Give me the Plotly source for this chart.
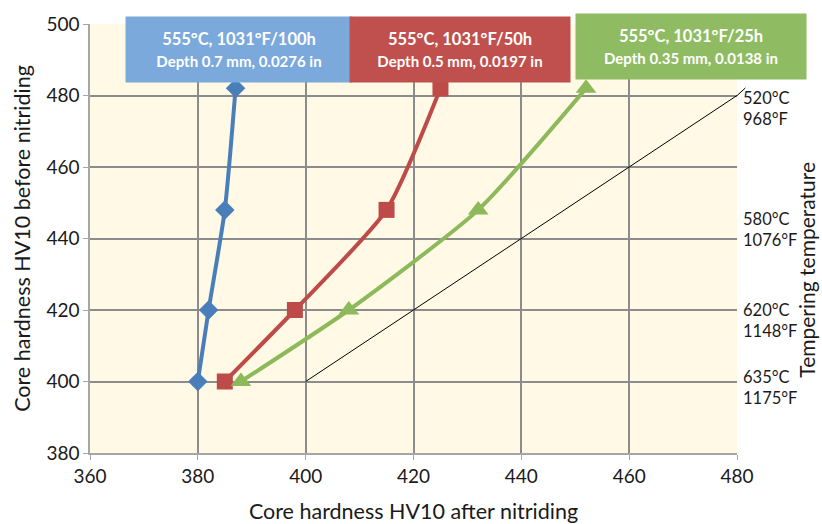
import plotly.graph_objects as go

# Core hardness HV10 after nitriding (x) vs. before nitriding (y)
hv_before = [400, 420, 448, 482]
hv_after_100h = [380, 382, 385, 387]
hv_after_50h = [385, 398, 415, 425]
hv_after_25h = [388, 408, 432, 452]

# Reference line: no change in hardness
ref_x = [400, 480]
ref_y = [400, 480]

# Tempering temperatures on the right-hand side
temper_labels = ["520°C<br>968°F", "580°C<br>1076°F", "620°C<br>1148°F", "635°C<br>1175°F"]
temper_y = [476.5, 442.5, 417.2, 398.3]

series_titles = [
    ("555°C, 1031°F/100h", "Depth 0.7 mm, 0.0276 in"),
    ("555°C, 1031°F/50h", "Depth 0.5 mm, 0.0197 in"),
    ("555°C, 1031°F/25h", "Depth 0.35 mm, 0.0138 in"),
]

x_ticks = [360, 380, 400, 420, 440, 460, 480]
y_ticks = [380, 400, 420, 440, 460, 480, 500]

BLUE = "#4A7EBB"
RED = "#BE4B48"
GREEN = "#8DB95A"
BOX_BLUE = "#7BA9DC"
BOX_RED = "#C0504D"
BOX_GREEN = "#8FBC62"
FONT = "Lato, Open Sans, sans-serif"
TEXT = "#1a1a1a"

fig = go.Figure()

fig.add_trace(go.Scatter(
    x=ref_x, y=ref_y, mode="lines",
    line=dict(color="black", width=1), hoverinfo="skip", showlegend=False,
))

fig.add_trace(go.Scatter(
    x=hv_after_100h, y=hv_before, mode="lines+markers",
    line=dict(color=BLUE, width=4, shape="spline", smoothing=0.6),
    marker=dict(symbol="diamond", size=15, color=BLUE),
    showlegend=False, cliponaxis=False,
))
fig.add_trace(go.Scatter(
    x=hv_after_50h, y=hv_before, mode="lines+markers",
    line=dict(color=RED, width=4, shape="spline", smoothing=0.6),
    marker=dict(symbol="square", size=16, color=RED),
    showlegend=False, cliponaxis=False,
))
fig.add_trace(go.Scatter(
    x=hv_after_25h, y=hv_before, mode="lines+markers",
    line=dict(color=GREEN, width=4, shape="spline", smoothing=0.6),
    marker=dict(symbol="triangle-up", size=18, color=GREEN),
    showlegend=False, cliponaxis=False,
))

# Series caption boxes above the curves
box_x = [387.6, 428.7, 471.5]
box_y = [492.9, 492.9, 493.6]
box_w = [226, 220, 230]
box_colors = [BOX_BLUE, BOX_RED, BOX_GREEN]
for (t1, t2), bx, by, bw, bc in zip(series_titles, box_x, box_y, box_w, box_colors):
    fig.add_annotation(
        x=bx, y=by, xref="x", yref="y", showarrow=False,
        text=f"<b>{t1}<br><span style='font-size:15px'>{t2}</span></b>",
        font=dict(family=FONT, size=16.5, color="white"),
        bgcolor=bc, width=bw, height=65, borderpad=0, align="center",
        xanchor="center", yanchor="middle",
    )

# Tempering temperature labels
for lab, ty in zip(temper_labels, temper_y):
    fig.add_annotation(
        x=1.006, y=ty, xref="paper", yref="y", showarrow=False,
        text=lab, font=dict(family=FONT, size=16.5, color=TEXT),
        xanchor="left", yanchor="middle", align="left",
    )

# Short leader from the reference line to the 520°C label
fig.add_shape(type="line", xref="paper", yref="paper",
              x0=1.0, y0=0.833, x1=1.013, y1=0.851,
              line=dict(color="black", width=1))

fig.add_annotation(
    x=1.108, y=0.427, xref="paper", yref="paper", showarrow=False,
    text="Tempering temperature", textangle=-90,
    font=dict(family=FONT, size=21, color=TEXT),
    xanchor="center", yanchor="middle",
)

fig.update_xaxes(
    range=[360, 480], tickvals=x_ticks, showgrid=True, gridcolor="#8C8C8C", gridwidth=2,
    showline=True, linecolor="#A6A6A6", linewidth=1.5, ticks="outside", ticklen=5,
    tickcolor="#A6A6A6", zeroline=False, automargin=False,
    tickfont=dict(family=FONT, size=19, color=TEXT),
    title=dict(text="Core hardness HV10 after nitriding", standoff=22,
               font=dict(family=FONT, size=21.5, color=TEXT)),
)
fig.update_yaxes(
    range=[380, 500], tickvals=y_ticks, showgrid=True, gridcolor="#8C8C8C", gridwidth=2,
    showline=True, linecolor="#A6A6A6", linewidth=1.5, ticks="outside", ticklen=5,
    tickcolor="#A6A6A6", zeroline=False, automargin=False,
    tickfont=dict(family=FONT, size=19, color=TEXT),
    title=dict(text="Core hardness HV10 before nitriding", standoff=10,
               font=dict(family=FONT, size=21.5, color=TEXT)),
)

fig.update_layout(
    width=822, height=524,
    margin=dict(l=90, r=85, t=24, b=71),
    plot_bgcolor="#FFF9E6", paper_bgcolor="white",
    font=dict(family=FONT),
)

fig.write_html("out.html")
